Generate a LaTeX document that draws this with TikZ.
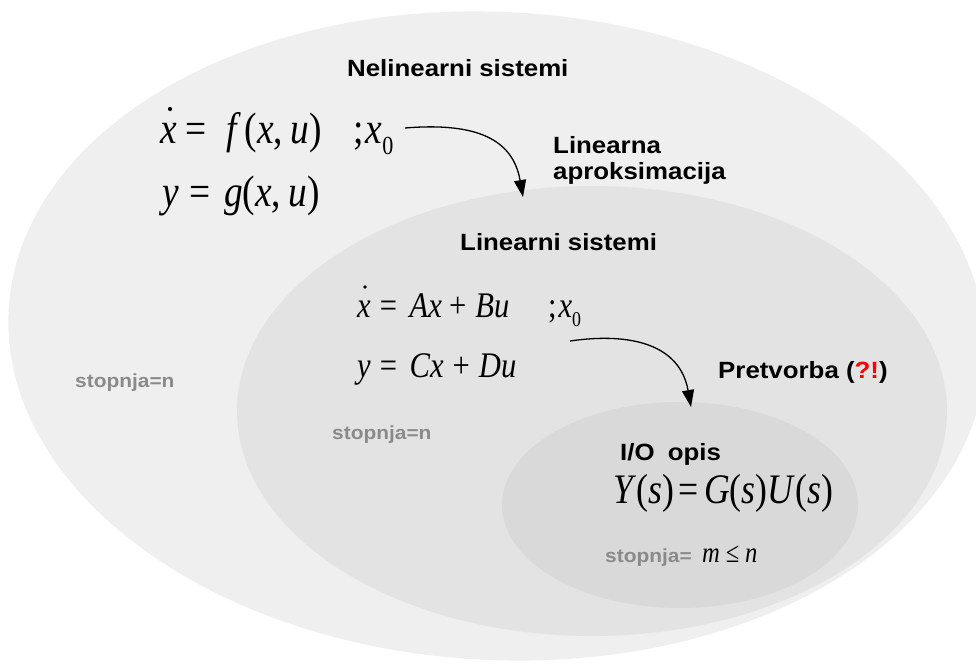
\documentclass[tikz,border=0pt]{standalone}
\usepackage{graphicx}
\usepackage{fontspec}
\setmainfont{Liberation Sans}
\newfontfamily\labfont[FakeStretch=1.1]{Liberation Sans}
\newfontfamily\mfont[FakeStretch=0.85]{Liberation Serif}
\usetikzlibrary{shapes.geometric,arrows.meta}
\definecolor{outerc}{RGB}{239,239,239}
\definecolor{midc}{RGB}{227,227,227}
\definecolor{innc}{RGB}{217,217,217}
\definecolor{grayt}{RGB}{138,138,138}
\definecolor{redq}{RGB}{255,0,0}
\newcommand\msz[1]{\mfont\fontsize{#1}{#1}\selectfont}
\newcommand\lsz[1]{\labfont\bfseries\fontsize{#1}{#1}\selectfont}
\begin{document}
\begin{tikzpicture}[x=1pt,y=-1pt,
  region/.style={ellipse, inner sep=0pt, draw=none},
  lbl/.style={anchor=base west, inner sep=0pt, font=\lsz{23.5}},
  gry/.style={anchor=base west, inner sep=0pt, text=grayt, font=\lsz{19}},
  eq/.style={anchor=base west, inner sep=0pt},
  dotmark/.style={fill=black},
  conn/.style={-{Triangle[length=17pt,width=12pt]}, line width=1.3pt}]
\useasboundingbox (0,0) rectangle (976,664);
\clip (0,0) rectangle (976,664);
\fill[white] (0,0) rectangle (976,664);
% regions
\node[region, fill=outerc, minimum width=978pt, minimum height=648pt, rotate=-3] (outer) at (497,336) {};
\node[region, fill=midc, minimum width=710pt, minimum height=450pt] (mid) at (592,411) {};
\node[region, fill=innc, minimum width=356pt, minimum height=206pt] (inn) at (680,505) {};
% labels
\node[lbl] (nel) at (347,76) {Nelinearni sistemi};
\node[lbl] (lin1) at (553,153) {Linearna};
\node[lbl] (lin2) at (553,179) {aproksimacija};
\node[lbl] (lins) at (460,250) {Linearni sistemi};
\node[lbl] (pre) at (718,378) {Pretvorba (\textcolor{redq}{?!})};
\node[lbl] (io) at (620,460) {I/O\hspace{0.56em}opis};
\node[gry] (st1) at (75,387) {stopnja=n};
\node[gry] (st2) at (332,439) {stopnja=n};
\node[gry] (st3) at (605,562) {stopnja=};
% equations
\node[eq, font=\msz{44}] (e1) at (160,143) {\textit{x}\hspace{0.2em}=\hspace{0.45em}\textit{f}\hspace{0.08em}(\textit{x},\,\textit{u})};
\node[eq, font=\msz{44}] (e1b) at (353,143) {;\hspace{0.05em}\textit{x}\raisebox{-0.27em}{\fontsize{26}{26}\selectfont 0}};
\node[eq, font=\msz{44}] (e2) at (162,206) {\textit{y}\hspace{0.25em}=\hspace{0.3em}\textit{g}(\textit{x},\,\textit{u})};
\node[eq, font=\msz{36}] (e3) at (357,317) {\textit{x}\hspace{0.25em}=\hspace{0.35em}\textit{Ax}\hspace{0.2em}+\hspace{0.25em}\textit{Bu}};
\node[eq, font=\msz{36}] (e3b) at (548,317) {;\hspace{0.05em}\textit{x}\raisebox{-0.27em}{\fontsize{21}{21}\selectfont 0}};
\node[eq, font=\msz{36}] (e4) at (357,377) {\textit{y}\hspace{0.25em}=\hspace{0.35em}\textit{Cx}\hspace{0.25em}+\hspace{0.25em}\textit{Du}};
\node[eq, font=\msz{42}] (e5) at (613,503) {\textit{Y}(\textit{s})\hspace{0.12em}=\hspace{0.12em}\textit{G}(\textit{s})\textit{U}(\textit{s})};
\node[eq, font=\msz{29}] (e6) at (702,562) {\textit{m}\hspace{0.2em}≤\hspace{0.2em}\textit{n}};
% time-derivative dots
\fill[dotmark] (e1.base west) ++(10,-34) circle (2.1pt);
\fill[dotmark] (e3.base west) ++(8,-30) circle (1.9pt);
% connectors
\coordinate (a1s) at (405,128);
\coordinate (a1e) at (523,197);
\coordinate (a2s) at (570,341);
\coordinate (a2e) at (691,407);
\draw[conn] (a1s) .. controls (478,122) and (513,140) .. (a1e);
\draw[conn] (a2s) .. controls (632,332) and (680,345) .. (a2e);
\end{tikzpicture}
\end{document}
